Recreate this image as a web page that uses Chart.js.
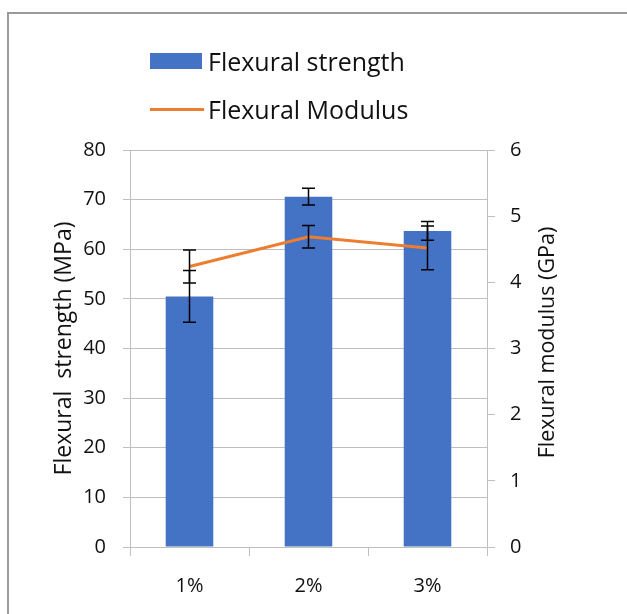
<!DOCTYPE html>
<html lang="en">
<head>
<meta charset="UTF-8">
<title>Flexural strength and modulus</title>
<script src="https://cdn.jsdelivr.net/npm/chart.js"></script>
<style>
  body {
    margin: 0;
    background: #ffffff;
    font-family: 'Open Sans', sans-serif;
  }
  .wrap {
    position: relative;
    width: 627px;
    height: 614px;
    overflow: hidden;
  }
  .frame {
    position: absolute;
    left: 7px;
    top: 12px;
    width: 700px;
    height: 700px;
    border-left: 2px solid #9a9a9a;
    border-top: 2px solid #9a9a9a;
  }
  canvas {
    position: absolute;
    left: 0;
    top: 0;
  }
  .legend {
    position: absolute;
    left: 150px;
    top: 37px;
    font-size: 25px;
    color: #111;
  }
  .legend .row {
    display: flex;
    align-items: center;
    height: 48px;
  }
  .legend .box {
    width: 52px;
    height: 16px;
    background: #4472c4;
    margin-right: 6px;
  }
  .legend .line {
    width: 54px;
    height: 3px;
    background: #ed7d31;
    margin-right: 4px;
  }
</style>
</head>
<body>
<div class="wrap">
  <div class="frame"></div>
  <canvas id="chart" width="627" height="614"></canvas>
  <div class="legend">
    <div class="row"><span class="box"></span><span id="lg1"></span></div>
    <div class="row"><span class="line"></span><span id="lg2"></span></div>
  </div>
</div>
<script>
  // data
  const categories = ["1%", "2%", "3%"];
  const strength = [50.5, 70.6, 63.7];        // MPa
  const strengthErr = [5.2, 1.7, 1.9];
  const modulus = [4.24, 4.69, 4.52];         // GPa
  const modulusErr = [0.25, 0.17, 0.33];
  const seriesNames = ["Flexural strength", "Flexural Modulus"];

  document.getElementById("lg1").textContent = seriesNames[0];
  document.getElementById("lg2").textContent = seriesNames[1];

  const FONT = "'Open Sans'";
  const gridGrey = "#bfbfbf";

  // error bars drawn on top of the datasets (errors picked by axis)
  const errByAxis = { y: strengthErr, y1: modulusErr };
  const errorBars = {
    id: "errorBars",
    afterDatasetsDraw(chart) {
      const ctx = chart.ctx;
      ctx.save();
      ctx.strokeStyle = "#000";
      ctx.lineWidth = 1.5;
      chart.data.datasets.forEach((ds, di) => {
        const meta = chart.getDatasetMeta(di);
        const scale = chart.scales[ds.yAxisID];
        const errs = errByAxis[ds.yAxisID];
        meta.data.forEach((el, i) => {
          const v = ds.data[i], e = errs[i];
          const yTop = scale.getPixelForValue(v + e);
          const yBot = scale.getPixelForValue(v - e);
          const x = el.x;
          ctx.beginPath();
          ctx.moveTo(x, yTop); ctx.lineTo(x, yBot);
          ctx.moveTo(x - 6.5, yTop); ctx.lineTo(x + 6.5, yTop);
          ctx.moveTo(x - 6.5, yBot); ctx.lineTo(x + 6.5, yBot);
          ctx.stroke();
        });
      });
      ctx.restore();
    }
  };

  // right axis title reads bottom-to-top like the left one
  const rightTitle = {
    id: "rightTitle",
    afterDraw(chart) {
      const ctx = chart.ctx;
      const a = chart.chartArea;
      ctx.save();
      ctx.translate(548, (a.top + a.bottom) / 2 - 6);
      ctx.rotate(-Math.PI / 2);
      ctx.font = "21.5px " + FONT;
      ctx.fillStyle = "#111";
      ctx.textAlign = "center";
      ctx.textBaseline = "middle";
      ctx.fillText("Flexural modulus (GPa)", 0, 0);
      ctx.restore();
    }
  };

  new Chart(document.getElementById("chart"), {
    type: "bar",
    data: {
      labels: categories,
      datasets: [
        {
          type: "line",
          label: seriesNames[1],
          data: modulus,
          yAxisID: "y1",
          borderColor: "#ed7d31",
          borderWidth: 3,
          pointRadius: 0,
          fill: false,
          order: 0
        },
        {
          type: "bar",
          label: seriesNames[0],
          data: strength,
          yAxisID: "y",
          backgroundColor: "#4472c4",
          categoryPercentage: 1,
          barPercentage: 0.4,
          order: 1
        }
      ]
    },
    options: {
      responsive: false,
      animation: false,
      layout: { padding: { top: 150, left: 0, right: 0, bottom: 0 } },
      plugins: {
        legend: { display: false },
        tooltip: { enabled: false }
      },
      scales: {
        x: {
          offset: true,
          grid: { offset: true, drawOnChartArea: false, color: gridGrey, tickLength: 9 },
          border: { color: gridGrey },
          ticks: { color: "#111", font: { family: FONT, size: 20 }, padding: 18 },
          afterFit: s => { s.height = 67; }
        },
        y: {
          position: "left",
          min: 0, max: 80,
          ticks: { stepSize: 10, color: "#111", font: { family: FONT, size: 20 }, padding: 17 },
          grid: { color: gridGrey, tickLength: 7 },
          border: { color: gridGrey },
          title: {
            display: true,
            text: "Flexural  strength (MPa)",
            color: "#111",
            font: { family: FONT, size: 23 },
            padding: { top: 51 }
          },
          afterFit: s => { s.width = 130; }
        },
        y1: {
          position: "right",
          min: 0, max: 6,
          ticks: { stepSize: 1, color: "#111", font: { family: FONT, size: 20 }, padding: 15 },
          grid: { drawOnChartArea: false, color: gridGrey, tickLength: 8 },
          border: { color: gridGrey },
          afterFit: s => { s.width = 140; }
        }
      }
    },
    plugins: [errorBars, rightTitle]
  });
</script>
</body>
</html>
